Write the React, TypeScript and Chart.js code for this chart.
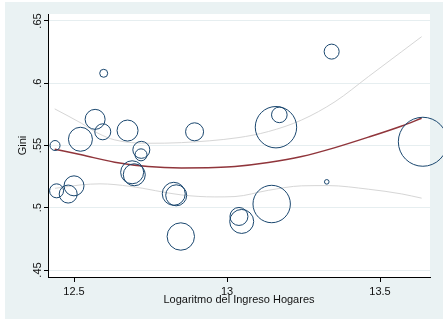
import React, { useEffect, useRef } from "react";
import { Chart, registerables } from "chart.js";

Chart.register(...registerables);

// Bubble data (log household income, Gini, marker radius)
const bubbleX = [12.438, 12.597, 13.342, 12.569, 12.594, 12.521, 12.675, 12.894, 13.171, 13.16, 13.64, 12.72, 12.719, 12.443, 12.481, 12.5, 12.69, 12.697, 12.826, 12.834, 12.849, 13.039, 13.048, 13.146, 13.326];
const bubbleY = [0.55, 0.608, 0.6254, 0.571, 0.561, 0.555, 0.562, 0.561, 0.5746, 0.5647, 0.553, 0.5465, 0.5425, 0.5136, 0.511, 0.5176, 0.5285, 0.5265, 0.5112, 0.51, 0.4769, 0.493, 0.489, 0.503, 0.5208];
const bubbleR = [5, 4, 7.5, 10, 8, 12, 10.5, 9, 7.8, 20.7, 24.5, 8.5, 6, 7, 9, 10, 11.5, 11, 11.5, 10.5, 13.7, 9, 12, 18.7, 2.3];

// Quadratic fit line
const fitX = [12.437, 12.524, 12.633, 12.742, 12.851, 12.96, 13.026, 13.135, 13.244, 13.353, 13.462, 13.571, 13.636];
const fitY = [0.547, 0.5425, 0.5366, 0.5331, 0.532, 0.5323, 0.5331, 0.5363, 0.5411, 0.5483, 0.5567, 0.5657, 0.5719];

// Upper confidence band
const upX = [12.437, 12.524, 12.578, 12.633, 12.742, 12.851, 13.036, 13.135, 13.244, 13.353, 13.462, 13.571, 13.636];
const upY = [0.5794, 0.5679, 0.5599, 0.5545, 0.5518, 0.5523, 0.5563, 0.5612, 0.5705, 0.5852, 0.6053, 0.6254, 0.6374];

// Lower confidence band
const loX = [12.438, 12.524, 12.585, 12.683, 12.851, 12.96, 13.026, 13.135, 13.244, 13.331, 13.462, 13.571, 13.636];
const loY = [0.5156, 0.5184, 0.5192, 0.5172, 0.5103, 0.5087, 0.509, 0.514, 0.5176, 0.5178, 0.5149, 0.5111, 0.5077];

const xTicks = [12.5, 13, 13.5];
const xTickLabels = ["12.5", "13", "13.5"];
const yTicks = [0.45, 0.5, 0.55, 0.6, 0.65];
const yTickLabels = [".45", ".5", ".55", ".6", ".65"];

const xTitle = "Logaritmo del Ingreso Hogares";
const yTitle = "Gini";

const FONT = "'Liberation Sans', Arial, sans-serif";

const bgPlugin = {
  id: "stataBg",
  beforeDraw(chart: any) {
    const { ctx, width, height, chartArea } = chart;
    ctx.save();
    ctx.fillStyle = "#ffffff";
    ctx.fillRect(0, 0, width, height);
    ctx.fillStyle = "#EAF2F3";
    ctx.fillRect(5, 2, width - 5, height - 2);
    ctx.fillStyle = "#ffffff";
    ctx.fillRect(chartArea.left, chartArea.top, chartArea.right - chartArea.left, chartArea.bottom - chartArea.top);
    ctx.restore();
  },
};

export default function App() {
  const ref = useRef<HTMLCanvasElement | null>(null);

  useEffect(() => {
    if (!ref.current) return;
    const pts = (xs: number[], ys: number[]) => xs.map((x, i) => ({ x, y: ys[i] }));
    const chart = new Chart(ref.current, {
      type: "bubble",
      data: {
        datasets: [
          {
            type: "bubble",
            label: "Gini",
            data: bubbleX.map((x, i) => ({ x, y: bubbleY[i], r: bubbleR[i] })),
            backgroundColor: "rgba(0,0,0,0)",
            borderColor: "#1A476F",
            borderWidth: 1,
            clip: false as any,
          } as any,
          {
            type: "line",
            label: "fit",
            data: pts(fitX, fitY),
            borderColor: "#90353B",
            borderWidth: 1.5,
            pointRadius: 0,
            fill: false,
            cubicInterpolationMode: "monotone",
          } as any,
          {
            type: "line",
            label: "upper",
            data: pts(upX, upY),
            borderColor: "#D6D6D6",
            borderWidth: 1,
            pointRadius: 0,
            fill: false,
            cubicInterpolationMode: "monotone",
          } as any,
          {
            type: "line",
            label: "lower",
            data: pts(loX, loY),
            borderColor: "#D6D6D6",
            borderWidth: 1,
            pointRadius: 0,
            fill: false,
            cubicInterpolationMode: "monotone",
          } as any,
        ],
      },
      options: {
        animation: false,
        responsive: false,
        devicePixelRatio: 1,
        layout: { autoPadding: false, padding: { top: 14, right: 13, left: 0, bottom: 0 } },
        plugins: {
          legend: { display: false },
          tooltip: { enabled: false },
        },
        scales: {
          x: {
            type: "linear",
            min: 12.415,
            max: 13.6634,
            afterBuildTicks: (s: any) => {
              s.ticks = xTicks.map((v) => ({ value: v }));
            },
            afterFit: (s: any) => {
              s.height = 42;
              s.paddingLeft = 0;
              s.paddingRight = 0;
            },
            ticks: {
              callback: (_v: any, i: number) => xTickLabels[i],
              font: { family: FONT, size: 11 },
              color: "#111",
              padding: 3,
              maxRotation: 0,
              minRotation: 0,
            },
            grid: {
              drawOnChartArea: false,
              drawTicks: true,
              tickLength: 5,
              tickColor: "#000",
            },
            border: { display: true, color: "#000", width: 1 },
            title: {
              display: true,
              text: xTitle,
              font: { family: FONT, size: 11 },
              color: "#111",
              padding: { top: 0, bottom: 12 },
            },
          },
          y: {
            type: "linear",
            min: 0.44438,
            max: 0.65562,
            afterBuildTicks: (s: any) => {
              s.ticks = yTicks.map((v) => ({ value: v }));
            },
            afterFit: (s: any) => {
              s.width = 48;
              s.paddingTop = 0;
              s.paddingBottom = 0;
            },
            ticks: {
              callback: (_v: any, i: number) => yTickLabels[i],
              font: { family: FONT, size: 11 },
              color: "#111",
              padding: -2,
              minRotation: 90,
              maxRotation: 90,
              crossAlign: "center",
            },
            grid: {
              color: "#E6EEF0",
              lineWidth: 1,
              drawTicks: true,
              tickLength: 4,
              tickColor: "#000",
            },
            border: { display: true, color: "#000", width: 1 },
            title: {
              display: true,
              text: yTitle,
              font: { family: FONT, size: 11 },
              color: "#111",
              padding: { top: 16, bottom: 0 },
            },
          },
        },
      },
      plugins: [bgPlugin],
    });
    return () => chart.destroy();
  }, []);

  return (
    <div style={{ position: "fixed", left: 0, top: 0, width: 443, height: 319 }}>
      <canvas ref={ref} width={443} height={319} style={{ width: 443, height: 319, display: "block" }} />
    </div>
  );
}
